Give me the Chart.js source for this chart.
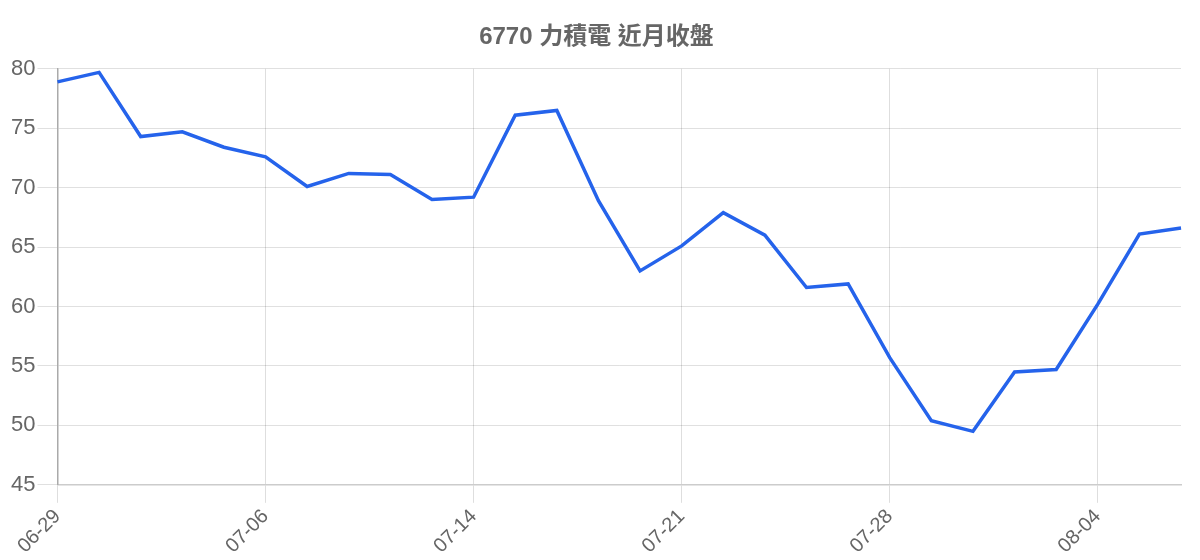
<!DOCTYPE html>
<html>
<head>
<meta charset="utf-8">
<script src="https://cdn.jsdelivr.net/npm/chart.js@4"></script>
<style>
html,body{margin:0;padding:0;background:#fff;}
#wrap{width:1200px;height:560px;}
</style>
</head>
<body>
<div id="wrap"><canvas id="c"></canvas></div>
<script>
const titleText = '6770 力積電 近月收盤';
const dates = ['06-29','06-30','07-03','07-04','07-05','07-06','07-07','07-10','07-11','07-12',
               '07-14','07-17','07-18','07-19','07-20','07-21','07-24','07-25','07-26','07-27',
               '07-28','07-31','08-01','08-02','08-03','08-04','08-07','08-08'];
const closes = [78.9,79.7,74.3,74.7,73.4,72.6,70.1,71.2,71.1,69.0,
                69.2,76.1,76.5,68.9,63.0,65.1,67.9,66.0,61.6,61.9,
                55.7,50.4,49.5,54.5,54.7,60.2,66.1,66.6];
const yMin = 45, yMax = 80, yStep = 5;
const labelEvery = 5;

new Chart(document.getElementById('c'), {
  type: 'line',
  data: {
    labels: dates,
    datasets: [{
      label: titleText,
      data: closes,
      borderColor: '#2563eb',
      backgroundColor: '#2563eb',
      borderWidth: 3.5,
      pointRadius: 0,
      tension: 0,
      fill: false
    }]
  },
  options: {
    responsive: true,
    maintainAspectRatio: false,
    animation: false,
    layout: { padding: { left: 9, right: 16, top: 0, bottom: 0 } },
    plugins: {
      legend: { display: false },
      tooltip: { enabled: false },
      title: {
        display: true,
        text: titleText,
        color: '#666',
        font: { size: 24, weight: 'bold', family: "'Liberation Sans', 'Noto Sans CJK TC', sans-serif" },
        padding: { top: 23, bottom: 17 }
      }
    },
    scales: {
      x: {
        offset: false,
        grid: {
          color: ctx => (ctx.index % labelEvery === 0) ? 'rgba(0,0,0,0.13)' : 'rgba(0,0,0,0)',
          tickLength: 18,
          drawTicks: true
        },
        border: { color: '#ccc', width: 1.5 },
        ticks: {
          autoSkip: false,
          minRotation: 45,
          maxRotation: 45,
          color: '#666',
          padding: 2,
          font: { size: 20, family: "'Liberation Sans', sans-serif" },
          callback: function(val, idx) { return idx % labelEvery === 0 ? this.getLabelForValue(val) : ''; }
        }
      },
      y: {
        min: yMin,
        max: yMax,
        grid: { color: 'rgba(0,0,0,0.12)', tickLength: 20 },
        border: { color: '#aaa', width: 1.5 },
        ticks: {
          stepSize: yStep,
          color: '#666',
          padding: 2,
          font: { size: 22, family: "'Liberation Sans', sans-serif" }
        }
      }
    }
  }
});
</script>
</body>
</html>
